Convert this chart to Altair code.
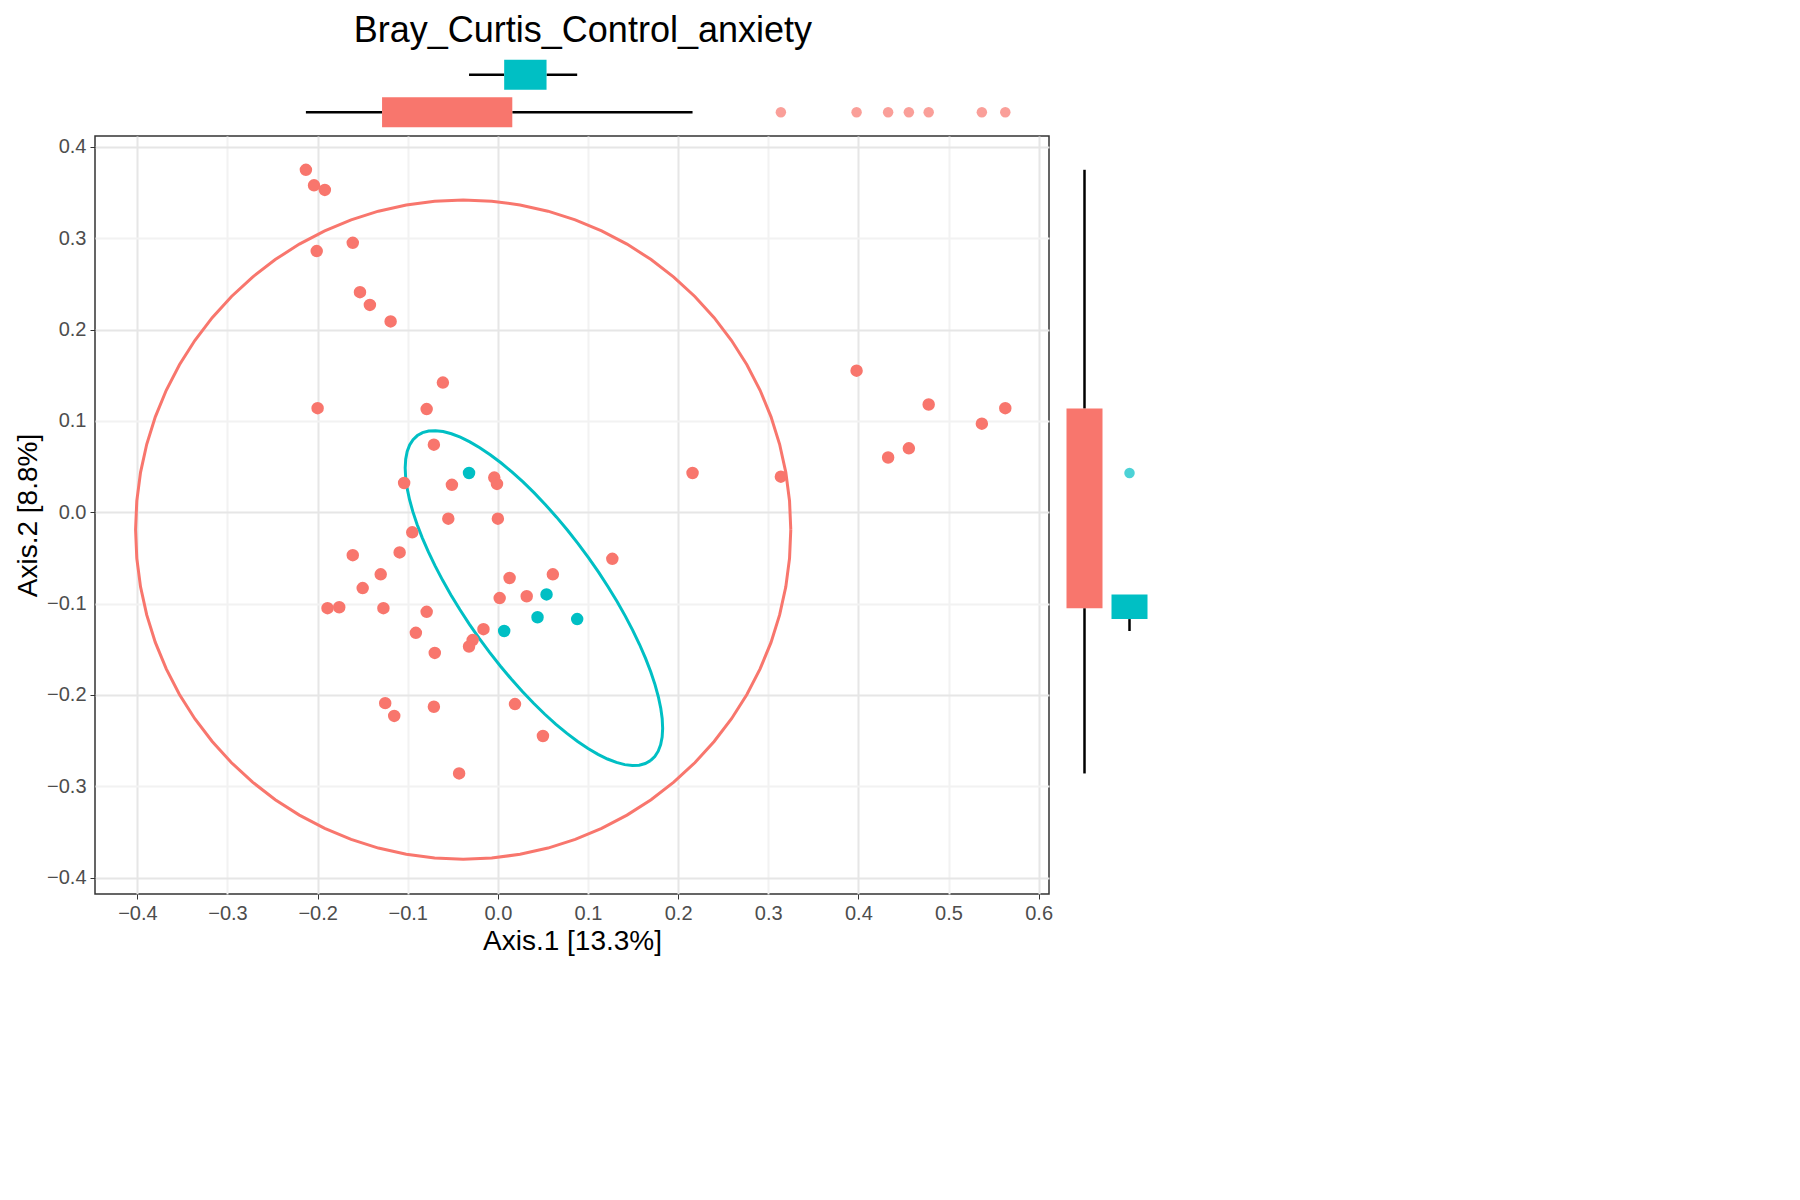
import altair as alt
import numpy as np
import pandas as pd

# PCoA scores
no_x = [-0.213, -0.204, -0.192, -0.201, -0.161, -0.153, -0.142, -0.119, -0.200, -0.061,
        -0.079, -0.071, -0.104, -0.051, -0.004, -0.001, -0.055, 0.000, -0.095, -0.109,
        -0.161, -0.150, -0.130, 0.013, 0.061, 0.127, -0.189, -0.176, -0.127, -0.079,
        0.002, 0.032, -0.091, -0.016, -0.028, -0.032, -0.070, -0.125, -0.115, -0.071,
        0.019, 0.050, -0.043, 0.216, 0.314, 0.398, 0.433, 0.456, 0.478, 0.537, 0.563]
no_y = [0.375, 0.358, 0.353, 0.286, 0.295, 0.241, 0.227, 0.209, 0.114, 0.142,
        0.113, 0.074, 0.032, 0.030, 0.038, 0.031, -0.007, -0.007, -0.022, -0.044,
        -0.047, -0.083, -0.068, -0.072, -0.068, -0.051, -0.105, -0.104, -0.105, -0.109,
        -0.094, -0.092, -0.132, -0.128, -0.140, -0.147, -0.154, -0.209, -0.223, -0.213,
        -0.210, -0.245, -0.286, 0.043, 0.039, 0.155, 0.060, 0.070, 0.118, 0.097, 0.114]
yes_x = [-0.032, 0.054, 0.007, 0.044, 0.088]
yes_y = [0.043, -0.090, -0.130, -0.115, -0.117]

# ellipse parameters: center x, center y, semi-major, semi-minor, angle (deg)
ell_no = [-0.0385, -0.019, 0.3635, 0.361, 0.0]
ell_yes = [0.040, -0.094, 0.22, 0.075, -54.0]

groups = ['No', 'Yes']
colors = ['#F8766D', '#00BFC4']

df = pd.DataFrame({
    'x': no_x + yes_x,
    'y': no_y + yes_y,
    'g': ['No'] * len(no_x) + ['Yes'] * len(yes_x),
})


def ellipse(p, g):
    t = np.linspace(0, 2 * np.pi, 73)
    a = np.deg2rad(p[4])
    ex = p[0] + p[2] * np.cos(t) * np.cos(a) - p[3] * np.sin(t) * np.sin(a)
    ey = p[1] + p[2] * np.cos(t) * np.sin(a) + p[3] * np.sin(t) * np.cos(a)
    return pd.DataFrame({'x': ex, 'y': ey, 'o': range(len(t)), 'g': g})


ell = pd.concat([ellipse(ell_no, 'No'), ellipse(ell_yes, 'Yes')])

xdom = [-0.447, 0.6115]
ydom = [-0.418, 0.412]
cscale = alt.Scale(domain=groups, range=colors)
odd = "abs(round(datum.value*10)) % 2 == 1"
grid_cond = {"condition": {"test": odd, "value": "#f2f2f2"}, "value": "#e6e6e6"}
lab_cond = {"condition": {"test": odd, "value": 0}, "value": 1}


def axis(title, vals):
    return alt.Axis(title=title, values=vals, format='.1f', grid=True, gridColor=grid_cond,
                    gridWidth=2, labelOpacity=lab_cond, tickOpacity=lab_cond,
                    labelFontSize=20, labelColor='#4d4d4d', titleFontSize=28,
                    titleFontWeight='normal', titleColor='black', tickColor='#333',
                    domain=False, labelPadding=4)


xvals = [round(-0.4 + 0.1 * i, 1) for i in range(11)]
yvals = [round(-0.4 + 0.1 * i, 1) for i in range(9)]
X = alt.X('x:Q', scale=alt.Scale(domain=xdom, nice=False, zero=False),
          axis=axis('Axis.1   [13.3%]', xvals))
Y = alt.Y('y:Q', scale=alt.Scale(domain=ydom, nice=False, zero=False),
          axis=axis('Axis.2   [8.8%]', yvals))

pts = alt.Chart(df).mark_point(filled=True, size=110, opacity=1).encode(
    x=X, y=Y,
    fill=alt.Fill('g:N', scale=cscale, legend=alt.Legend(
        title='anxiety_binned', symbolType='square', symbolStrokeColor='#333',
        symbolStrokeWidth=3, symbolSize=900, orient='right', titleFontSize=28,
        labelFontSize=22, titleFontWeight='normal', rowPadding=24, offset=70)),
    stroke=alt.Stroke('g:N', scale=cscale, legend=alt.Legend(
        title='anxiety level', symbolType='square', symbolFillColor='white',
        symbolStrokeWidth=3, symbolSize=900, orient='right', titleFontSize=28,
        labelFontSize=22, titleFontWeight='normal', rowPadding=24, offset=70)),
)
lines = alt.Chart(ell).mark_line(strokeWidth=3).encode(
    x='x:Q', y='y:Q', order='o:Q',
    stroke=alt.Stroke('g:N', scale=cscale, legend=None),
    detail='g:N')

main = alt.layer(lines, pts).properties(width=954, height=758,
                                        view=alt.ViewConfig(stroke='#333', strokeWidth=1.5))

top = alt.Chart(df).mark_boxplot(size=30, median={'opacity': 0},
                                 rule={'strokeWidth': 2.5},
                                 outliers={'size': 110, 'filled': True}).encode(
    x=alt.X('x:Q', scale=alt.Scale(domain=xdom, nice=False, zero=False), axis=None),
    y=alt.Y('g:N', sort=['Yes', 'No'], axis=None),
    color=alt.Color('g:N', scale=cscale, legend=None),
).properties(width=954, height=75, view=alt.ViewConfig(strokeWidth=0))

right = alt.Chart(df).mark_boxplot(size=36, median={'opacity': 0},
                                   rule={'strokeWidth': 2.5},
                                   outliers={'size': 110, 'filled': True}).encode(
    y=alt.Y('y:Q', scale=alt.Scale(domain=ydom, nice=False, zero=False), axis=None),
    x=alt.X('g:N', sort=groups, axis=None),
    color=alt.Color('g:N', scale=cscale, legend=None),
).properties(width=90, height=758, view=alt.ViewConfig(strokeWidth=0))

chart = alt.vconcat(
    top,
    alt.hconcat(main, right, spacing=8),
    spacing=4,
).properties(
    title=alt.TitleParams('Bray_Curtis_Control_anxiety', fontSize=36, fontWeight='normal',
                          anchor='middle', offset=6),
    background='white',
).configure(font='Liberation Sans').configure_view(strokeWidth=0)

chart.save("out.html", embed_options={"renderer": "svg", "actions": False})
